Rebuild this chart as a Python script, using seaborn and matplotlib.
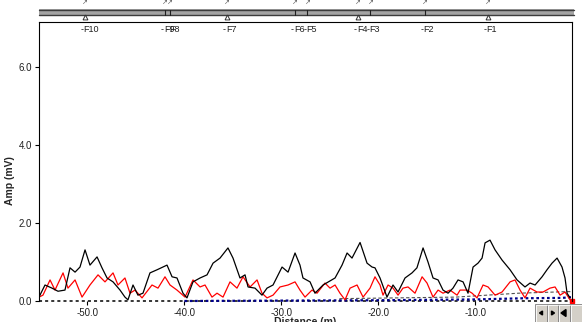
import numpy as np
import pandas as pd
import matplotlib
matplotlib.use("Agg")
import matplotlib.pyplot as plt
import seaborn as sns
from matplotlib.patches import Rectangle, Polygon

sns.set_theme(style="white")
plt.rcParams['font.family'] = ['Liberation Sans', 'DejaVu Sans']

# ---------------- data ----------------
black_dist = [-55.00, -54.38, -53.66, -53.04, -52.32, -51.80, -51.28, -50.77, -50.25, -49.74,
              -49.01, -48.50, -47.98, -47.36, -46.64, -46.13, -45.82, -45.30, -44.79, -44.27,
              -43.55, -42.82, -41.79, -41.27, -40.76, -40.14, -39.73, -39.11, -38.38, -37.66,
              -37.04, -36.32, -35.50, -34.98, -34.26, -33.74, -33.43, -32.71, -31.99, -31.47,
              -30.85, -29.92, -29.30, -28.58, -28.07, -27.76, -27.03, -26.52, -25.69, -24.45,
              -23.73, -23.21, -22.70, -21.87, -21.15, -20.63, -20.33, -19.81, -19.09, -18.47,
              -17.95, -17.23, -16.51, -16.00, -15.37, -14.86, -14.34, -13.82, -13.31, -12.79,
              -12.28, -11.76, -11.24, -10.73, -10.21, -9.70, -9.28, -8.97, -8.46, -7.94,
              -7.22, -6.39, -5.67, -4.85, -4.33, -3.81, -3.09, -2.58, -2.06, -1.54,
              -1.03, -0.72, -0.51, -0.20]
black_amp = [0.10, 0.41, 0.33, 0.25, 0.28, 0.85, 0.74, 0.87, 1.31, 0.92,
             1.13, 0.85, 0.59, 0.49, 0.28, 0.10, 0.03, 0.41, 0.15, 0.20,
             0.72, 0.80, 0.92, 0.62, 0.59, 0.20, 0.08, 0.49, 0.59, 0.67,
             0.97, 1.10, 1.36, 1.10, 0.59, 0.67, 0.36, 0.33, 0.15, 0.33,
             0.41, 0.87, 0.74, 1.23, 0.92, 0.59, 0.49, 0.20, 0.41, 0.59,
             0.92, 1.23, 1.10, 1.50, 0.97, 0.87, 0.85, 0.59, 0.10, 0.41,
             0.23, 0.59, 0.72, 0.85, 1.36, 1.00, 0.59, 0.54, 0.28, 0.20,
             0.33, 0.54, 0.49, 0.20, 0.87, 0.97, 1.10, 1.49, 1.56, 1.31,
             1.05, 0.80, 0.54, 0.36, 0.46, 0.41, 0.62, 0.80, 0.97, 1.10,
             0.87, 0.59, 0.20, 0.08]

red_dist = [-55.00, -54.59, -53.86, -53.35, -52.52, -52.01, -51.28, -50.56, -49.74, -48.91,
            -48.19, -47.36, -46.85, -46.13, -45.61, -45.09, -44.37, -43.34, -42.72, -42.00,
            -41.48, -40.76, -39.93, -39.11, -38.38, -37.87, -37.15, -36.63, -36.01, -35.29,
            -34.57, -33.95, -33.22, -32.50, -31.99, -31.47, -30.85, -30.13, -29.30, -28.58,
            -28.07, -27.55, -26.83, -26.31, -25.49, -24.97, -24.45, -23.94, -23.42, -22.90,
            -22.18, -21.56, -20.84, -20.33, -19.81, -19.50, -18.98, -18.47, -17.95, -17.44,
            -16.92, -16.20, -15.47, -14.96, -14.34, -13.82, -13.31, -12.59, -11.86, -11.55,
            -10.83, -10.31, -9.80, -9.18, -8.66, -7.94, -7.22, -6.39, -5.88, -5.36,
            -4.85, -4.33, -3.61, -2.99, -2.27, -1.75, -1.23, -0.72, -0.20]
red_amp = [0.10, 0.15, 0.54, 0.28, 0.72, 0.33, 0.54, 0.10, 0.41, 0.67,
           0.49, 0.72, 0.41, 0.59, 0.20, 0.28, 0.08, 0.41, 0.33, 0.62,
           0.41, 0.28, 0.10, 0.54, 0.36, 0.41, 0.10, 0.20, 0.10, 0.49,
           0.33, 0.62, 0.36, 0.54, 0.20, 0.08, 0.15, 0.36, 0.41, 0.49,
           0.28, 0.10, 0.28, 0.20, 0.46, 0.33, 0.41, 0.20, 0.03, 0.33,
           0.41, 0.10, 0.33, 0.62, 0.41, 0.15, 0.41, 0.33, 0.15, 0.33,
           0.36, 0.20, 0.62, 0.46, 0.10, 0.28, 0.20, 0.28, 0.15, 0.28,
           0.28, 0.20, 0.08, 0.41, 0.36, 0.15, 0.23, 0.49, 0.54, 0.28,
           0.08, 0.33, 0.23, 0.23, 0.33, 0.36, 0.15, 0.23, 0.03]

grey_dist = [-24.0, -12.0, -5.5, -0.5, 0.0]
grey_amp = [0.06, 0.10, 0.20, 0.24, 0.24]

blue_dist = [-40.0, -20.0, -10.0, -5.0, -1.0, 0.0]
blue_amp = [0.00, 0.02, 0.04, 0.07, 0.08, 0.10]

base_dist = [-55.0, 0.0]
base_amp = [0.0, 0.0]

marker_names = ["F10", "F9", "F8", "F7", "F6", "F5", "F4", "F3", "F2", "F1"]
marker_dist = [-50.3, -42.0, -41.5, -35.6, -28.6, -27.3, -22.1, -20.8, -15.2, -8.7]
marker_tri = [True, False, False, True, False, False, True, False, False, True]

x_ticks = [-50.0, -40.0, -30.0, -20.0, -10.0]
y_ticks = [0.0, 2.0, 4.0, 6.0]

# ---------------- figure ----------------
W, H = 582, 322
fig = plt.figure(figsize=(W / 100, H / 100), dpi=100)
fig.patch.set_facecolor("white")

def fx(px):
    return px / W

def fy(py):
    return 1 - py / H

L, R, T, B = 39, 572, 22, 301
ax = fig.add_axes([fx(L), fy(B), fx(R) - fx(L), fy(T) - fy(B)])
ax.set_facecolor("white")

sns.lineplot(x=base_dist, y=base_amp, ax=ax, color="black", lw=1.1,
             linestyle=(0, (2, 2)), estimator=None, sort=False, clip_on=False)
sns.lineplot(x=blue_dist, y=blue_amp, ax=ax, color="#00008b", lw=1.6,
             linestyle=(0, (1.2, 1.2)), estimator=None, sort=False, clip_on=False)
sns.lineplot(x=grey_dist, y=grey_amp, ax=ax, color="#505050", lw=0.8,
             linestyle=(0, (3, 2)), estimator=None, sort=False)
sns.lineplot(x=red_dist, y=red_amp, ax=ax, color="#ff0000", lw=0.9,
             estimator=None, sort=False)
sns.lineplot(x=black_dist, y=black_amp, ax=ax, color="black", lw=0.9,
             estimator=None, sort=False)
ax.plot([base_dist[-1]], [base_amp[-1]], marker="s", ms=3, color="#ff0000",
        clip_on=False)

ax.set_xlim(-55, 0)
ax.set_ylim(0, 7.15)
ax.set_xticks(x_ticks)
ax.set_xticklabels([f"{v:.1f}" for v in x_ticks])
ax.set_yticks(y_ticks)
ax.set_yticklabels([f"{v:.1f}" for v in y_ticks])
ax.tick_params(axis="both", which="both", direction="out", length=3, width=0.8,
               color="black", labelsize=7, pad=2, bottom=True, left=True,
               labelcolor="#202020")
for side in ["left", "top", "right"]:
    ax.spines[side].set_visible(True)
    ax.spines[side].set_color("black")
    ax.spines[side].set_linewidth(0.8)
ax.spines["bottom"].set_visible(False)
ax.set_xlabel("Distance (m)", fontsize=7.5, fontweight="bold", va="top")
ax.xaxis.set_label_coords(0.5, -(317 - B) / (B - T))
ax.set_ylabel("Amp (mV)", fontsize=7.5, fontweight="bold", va="center")
ax.yaxis.set_label_coords((10 - L) / (R - L), 0.43)
ax.grid(False)

# overlay in pixel coordinates for labels and decorations
ov = fig.add_axes([0, 0, 1, 1], zorder=5)
ov.set_xlim(0, W)
ov.set_ylim(H, 0)
ov.axis("off")
ov.patch.set_alpha(0)

def d2px(d):
    return L + (d + 55) / 55 * (R - L)

# marker band
ov.add_patch(Rectangle((L, 9), R + 2 - L, 6, facecolor="#a4a4a4", edgecolor="none"))
ov.plot([L, R + 2], [9.5, 9.5], color="#3c3c3c", lw=1.0)
ov.plot([L, R + 2], [14.5, 14.5], color="#3c3c3c", lw=1.0)
for name, d, tri in zip(marker_names, marker_dist, marker_tri):
    px = d2px(d)
    if tri:
        ov.plot(px, 16.5, marker="^", ms=3.5, mfc="white", mec="#303030", mew=0.7)
    else:
        ov.plot([px, px], [9.5, 14.5], color="#202020", lw=0.8)

for name, d in zip(marker_names, marker_dist):
    px = d2px(d)
    ov.text(px - 2.5, 29.5, "-", fontsize=6.5, ha="center", va="center", color="#202020")
    ov.text(px - 1, 29.5, name, fontsize=6.5, ha="left", va="center", color="#202020")

# small glyphs above the band (cut by the top edge)
for d in marker_dist:
    ov.text(d2px(d), 2, "\u2197", fontsize=5, ha="center", va="center", color="#606060")

# scroll buttons at bottom right
btn_x = [535, 547, 558, 570]
btn_w = [12, 11, 12, 14]
for bx, bw in zip(btn_x, btn_w):
    ov.add_patch(Rectangle((bx, 304), bw, 18, facecolor="#d4d0c8",
                           edgecolor="#808080", lw=0.6))
    ov.plot([bx + 0.5, bx + 0.5, bx + bw - 0.5], [322, 304.5, 304.5],
            color="white", lw=0.6)
ov.add_patch(Polygon([[539.5, 313], [542.5, 311], [542.5, 315]], closed=True, color="black"))
ov.add_patch(Polygon([[554.5, 313], [551.5, 311], [551.5, 315]], closed=True, color="black"))
ov.add_patch(Polygon([[561, 313], [566, 309.5], [566, 316.5]], closed=True, color="black"))

fig.savefig("out.png", dpi=100, facecolor="white")
